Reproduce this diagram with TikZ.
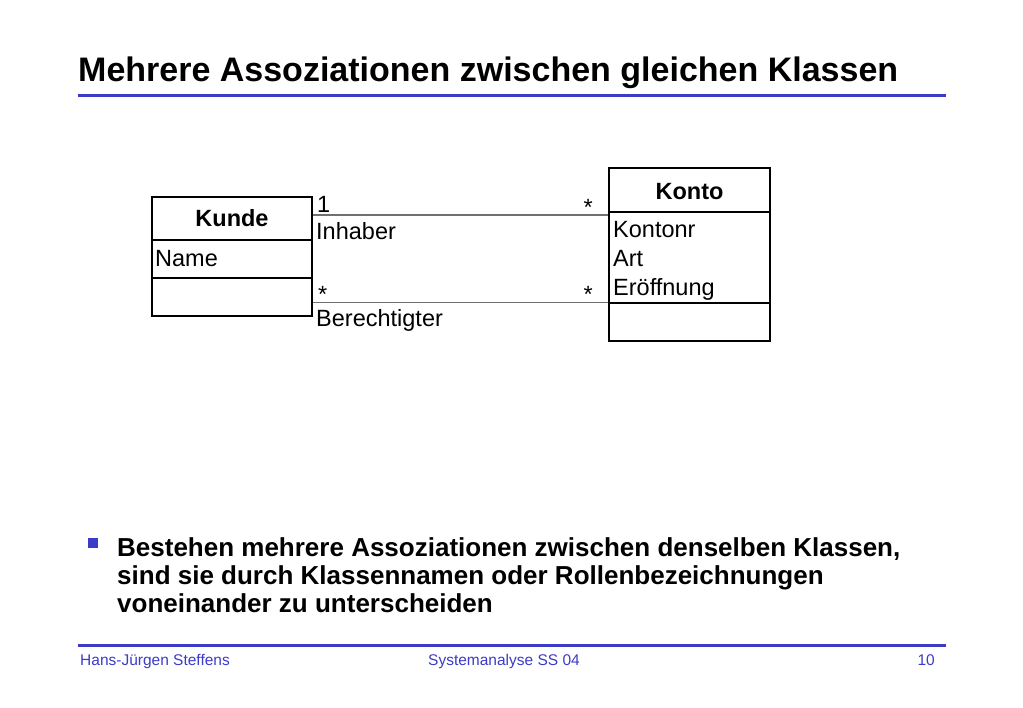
\documentclass[tikz,border=0pt]{standalone}
\usepackage{fontspec}
\setmainfont{Liberation Sans}
\definecolor{slideblue}{HTML}{3B3BC8}
\definecolor{assocgray}{HTML}{707070}
\begin{document}
\begin{tikzpicture}[x=1pt,y=-1pt,
  classbox/.style={draw=black,line width=2pt,inner sep=0pt},
  divider/.style={draw=black,line width=2pt},
  assoc/.style={draw=assocgray,line width=1.3pt},
  lbl/.style={anchor=base west,inner sep=0pt,font=\fontsize{23.5}{28}\selectfont},
  lblr/.style={anchor=base east,inner sep=0pt,font=\fontsize{23.5}{28}\selectfont},
  cname/.style={anchor=base,inner sep=0pt,font=\fontsize{23.5}{28}\selectfont\bfseries},
  bline/.style={anchor=base west,inner sep=0pt,font=\bfseries\fontsize{26}{28}\selectfont},
  rule/.style={draw=slideblue,line width=3pt},
  foot/.style={inner sep=0pt,font=\fontsize{15.5}{18}\selectfont,text=slideblue}
]
\useasboundingbox (0,0) rectangle (1023,708);
% title
\node[anchor=base west,inner sep=0pt,font=\bfseries\fontsize{34}{40}\selectfont] (title) at (78,82) {Mehrere Assoziationen zwischen gleichen Klassen};
\draw[rule] (78,96) -- (946,96);
% Kunde
\node[classbox,minimum width=160pt,minimum height=119pt] (kunde) at (232,256.5) {};
\draw[divider] (kunde.west |- 0,240) -- (kunde.east |- 0,240);
\draw[divider] (kunde.west |- 0,278) -- (kunde.east |- 0,278);
\node[cname] (kundename) at (232,227) {Kunde};
\node[lbl] (kname) at (155,266.5) {Name};
% Konto
\node[classbox,minimum width=161pt,minimum height=173pt] (konto) at (689.5,254.5) {};
\draw[divider] (konto.west |- 0,212) -- (konto.east |- 0,212);
\draw[divider] (konto.west |- 0,303) -- (konto.east |- 0,303);
\node[cname] (kontoname) at (689.5,200) {Konto};
\node[lbl] (knr) at (613,237.5) {Kontonr};
\node[lbl] (kart) at (613,266.5) {Art};
\node[lbl] (keroff) at (613,296) {Eröffnung};
% associations
\draw[assoc] (kunde.east |- 0,215) -- (konto.west |- 0,215);
\draw[assoc] (kunde.east |- 0,302.5) -- (konto.west |- 0,302.5);
\node[lbl] (m1) at (317,213) {1};
\node[lbl] (r1) at (316,240) {Inhaber};
\node[lblr] (m2) at (593,216) {*};
\node[lbl] (m3) at (318,303) {*};
\node[lbl] (r2) at (316,327) {Berechtigter};
\node[lblr] (m4) at (593,303) {*};
% bullet
\fill[slideblue] (88,538) rectangle (98,548);
\node[bline] (t1) at (117,556) {Bestehen mehrere Assoziationen zwischen denselben Klassen,};
\node[bline] (t2) at (117,584) {sind sie durch Klassennamen oder Rollenbezeichnungen};
\node[bline] (t3) at (117,612) {voneinander zu unterscheiden};
% footer
\draw[rule] (78,645) -- (946,645);
\node[foot,anchor=base west] (f1) at (80,665) {Hans-Jürgen Steffens};
\node[foot,anchor=base] (f2) at (504,665) {Systemanalyse SS 04};
\node[foot,anchor=base east] (f3) at (935,665) {10};
\end{tikzpicture}
\end{document}
